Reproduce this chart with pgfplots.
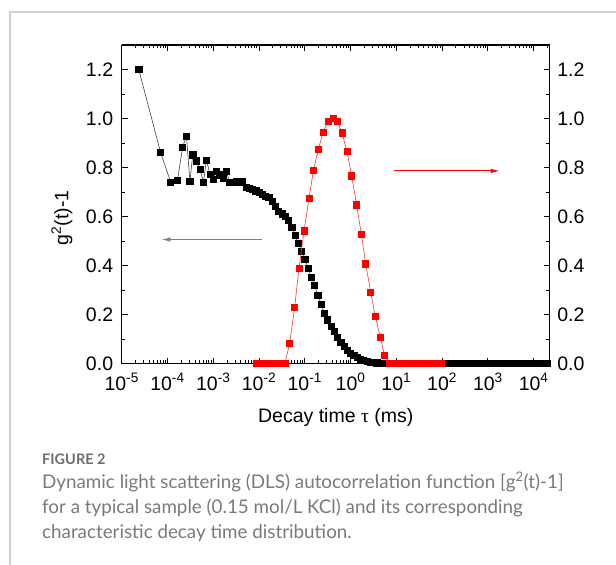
\documentclass[border=0pt]{standalone}
\usepackage{fontspec}
\setmainfont{Liberation Sans}
\newfontfamily\capfont{Lato}
\newfontfamily\greekfont{Liberation Serif}
\usepackage{pgfplots}
\pgfplotsset{compat=1.18}
\usetikzlibrary{arrows.meta}
\definecolor{capgray}{HTML}{7A7A7A}
\definecolor{figgray}{HTML}{6E6E6E}
\definecolor{framegray}{HTML}{CFCFCF}
\definecolor{linegray}{HTML}{444444}

\begin{document}
\begin{tikzpicture}
\path[use as bounding box] (-121.7bp,-201.5bp) rectangle (494.3bp,363.5bp);
\fill[white] (-121.7bp,-201.5bp) rectangle (494.3bp,363.5bp);
\draw[framegray, line width=1.5bp] (-111.7bp,-201.5bp) -- (-111.7bp,351.5bp) -- (494.3bp,351.5bp);

% g2(t)-1, left axis
\begin{axis}[
  at={(0,0)}, anchor=south west,
  scale only axis, width=428bp, height=318.5bp,
  xmode=log, xmin=1e-5, xmax=2.24e4, ymin=0, ymax=1.3,
  axis y line*=left,
  axis line style={line width=1.1bp},
  major tick length=6bp, minor tick length=3.5bp,
  tick style={line width=0.9bp, black},
  tick align=inside,
  ytick={0,0.2,0.4,0.6,0.8,1.0,1.2}, minor y tick num=1,
  /pgf/number format/fixed, /pgf/number format/fixed zerofill,
  /pgf/number format/precision=1, /pgf/number format/assume math mode=true,
  tick label style={font=\fontsize{19.5bp}{22bp}\selectfont},
  yticklabel style={anchor=east, inner sep=0pt, xshift=-8.4bp},
  xticklabel style={anchor=base, inner sep=0pt, yshift=-26.5bp},
  xtick={1e-5,1e-4,1e-3,1e-2,1e-1,1,10,100,1000,10000},
  xticklabels={10\textsuperscript{-5},10\textsuperscript{-4},10\textsuperscript{-3},10\textsuperscript{-2},10\textsuperscript{-1},10\textsuperscript{0},10\textsuperscript{1},10\textsuperscript{2},10\textsuperscript{3},10\textsuperscript{4}},
  minor xtick={2e-5,3e-5,4e-5,5e-5,6e-5,7e-5,8e-5,9e-5,
    2e-4,3e-4,4e-4,5e-4,6e-4,7e-4,8e-4,9e-4,
    2e-3,3e-3,4e-3,5e-3,6e-3,7e-3,8e-3,9e-3,
    2e-2,3e-2,4e-2,5e-2,6e-2,7e-2,8e-2,9e-2,
    0.2,0.3,0.4,0.5,0.6,0.7,0.8,0.9,
    2,3,4,5,6,7,8,9,
    20,30,40,50,60,70,80,90,
    200,300,400,500,600,700,800,900,
    2000,3000,4000,5000,6000,7000,8000,9000,
    20000},
]
\addplot[linegray, line width=0.6bp, mark=square*, mark size=3.1bp,
  mark options={solid, fill=black, draw=black}] coordinates {
  (2.36e-5,1.200) (7.03e-5,0.863) (1.175e-4,0.740) (1.66e-4,0.748)
  (2.14e-4,0.883) (2.60e-4,0.928) (3.09e-4,0.744) (3.57e-4,0.852)
  (4.30e-4,0.827) (5.15e-4,0.793) (6.11e-4,0.740) (7.10e-4,0.831)
  (8.51e-4,0.773)
  (1.000e-3,0.752) (1.179e-3,0.786) (1.389e-3,0.770) (1.638e-3,0.756)
  (1.931e-3,0.785) (2.276e-3,0.738) (2.683e-3,0.741) (3.162e-3,0.742)
  (3.728e-3,0.742) (4.394e-3,0.745) (5.179e-3,0.720) (6.105e-3,0.716)
  (7.197e-3,0.712) (8.483e-3,0.705)
  (1.000e-2,0.698) (1.179e-2,0.690) (1.389e-2,0.683) (1.638e-2,0.677)
  (1.931e-2,0.662) (2.276e-2,0.640) (2.683e-2,0.622) (3.162e-2,0.611)
  (3.728e-2,0.601) (4.394e-2,0.583) (5.179e-2,0.555) (6.105e-2,0.523)
  (7.197e-2,0.490) (8.483e-2,0.458)
  (0.1000,0.425) (0.1179,0.390) (0.1389,0.352) (0.1638,0.318)
  (0.1931,0.280) (0.2276,0.242) (0.2683,0.205) (0.3162,0.178)
  (0.3728,0.152) (0.4394,0.130) (0.5179,0.108) (0.6105,0.088)
  (0.7197,0.070) (0.8483,0.054)
  (1.000,0.042) (1.179,0.032) (1.389,0.024) (1.638,0.018)
  (1.931,0.013) (2.276,0.009) (2.683,0.006) (3.162,0.004)
  (3.728,0.003) (4.394,0.002) (5.179,0.001) (6.105,0) (7.197,0) (8.483,0)
  (10,0) (11.79,0) (13.89,0) (16.38,0) (19.31,0) (22.76,0) (26.83,0)
  (31.62,0) (37.28,0) (43.94,0) (51.79,0) (61.05,0) (71.97,0) (84.83,0)
  (100,0) (117.9,0) (138.9,0) (163.8,0) (193.1,0) (227.6,0) (268.3,0)
  (316.2,0) (372.8,0) (439.4,0) (517.9,0) (610.5,0) (719.7,0) (848.3,0)
  (1000,0) (1179,0) (1389,0) (1638,0) (1931,0) (2276,0) (2683,0)
  (3162,0) (3728,0) (4394,0) (5179,0) (6105,0) (7197,0) (8483,0)
  (10000,0) (11790,0) (13890,0) (16380,0) (19310,0)
};
\draw[-{Latex[length=9bp,width=4.5bp]}, gray, line width=0.9bp]
  (axis cs:1.145e-2,0.506) -- (axis cs:7.4e-5,0.506);
\end{axis}

% decay time distribution, right axis
\begin{axis}[
  at={(0,0)}, anchor=south west,
  scale only axis, width=428bp, height=318.5bp,
  xmode=log, xmin=1e-5, xmax=2.24e4, ymin=0, ymax=1.3,
  axis y line*=right, axis x line=none,
  axis line style={line width=1.1bp},
  major tick length=6bp, minor tick length=3.5bp,
  tick style={line width=0.9bp, black},
  tick align=inside,
  ytick={0,0.2,0.4,0.6,0.8,1.0,1.2}, minor y tick num=1,
  /pgf/number format/fixed, /pgf/number format/fixed zerofill,
  /pgf/number format/precision=1, /pgf/number format/assume math mode=true,
  tick label style={font=\fontsize{19.5bp}{22bp}\selectfont},
  yticklabel style={anchor=west, inner sep=0pt, xshift=7.5bp},
]
\addplot[red!80, line width=0.6bp, mark=square*, mark size=3.1bp,
  mark options={solid, fill=red, draw=red}] coordinates {
  (8.79e-3,0) (1.117e-2,0) (1.42e-2,0) (1.80e-2,0) (2.29e-2,0)
  (2.90e-2,0) (3.68e-2,0)
  (4.677e-2,0.083) (6.01e-2,0.230) (7.46e-2,0.389) (9.62e-2,0.542)
  (0.1236,0.675) (0.1542,0.788) (0.1982,0.875) (0.2495,0.943)
  (0.3214,0.987) (0.4130,1.000) (0.5150,0.988) (0.6490,0.942)
  (0.8340,0.866) (1.057,0.766) (1.358,0.648) (1.722,0.527)
  (2.138,0.407) (2.748,0.292) (3.475,0.192) (4.477,0.106) (5.559,0.032)
  (7.06,0) (8.97,0) (11.4,0) (14.5,0) (18.4,0) (23.3,0) (29.6,0)
  (37.6,0) (47.7,0) (60.5,0) (76.9,0) (97.7,0)
};
\draw[-{Latex[length=9bp,width=4.5bp]}, red, line width=0.9bp]
  (axis cs:8.87,0.786) -- (axis cs:1803,0.786);
\end{axis}

\node[font=\fontsize{19.5bp}{22bp}\selectfont, anchor=base] at (214bp,-58.5bp)
  {Decay time {\greekfont τ} (ms)};
\node[font=\fontsize{19.5bp}{22bp}\selectfont, rotate=90] at (-59.7bp,145.5bp)
  {g\textsuperscript{2}(t)-1};

\node[anchor=base west, text=figgray, inner sep=0pt,
  font=\capfont\bfseries\fontsize{14.5bp}{16bp}\selectfont] at (-79.7bp,-100.5bp) {FIGURE 2};
\begin{scope}[every node/.style={anchor=base west, text=capgray, inner sep=0pt,
  font=\capfont\fontsize{18.8bp}{21bp}\selectfont}]
\node at (-79.7bp,-124.5bp) {Dynamic light scattering (DLS) autocorrelation function [g\textsuperscript{2}(t)-1]};
\node at (-79.7bp,-149.5bp) {for a typical sample (0.15 mol/L KCl) and its corresponding};
\node at (-79.7bp,-174.5bp) {characteristic decay time distribution.};
\end{scope}
\end{tikzpicture}
\end{document}
